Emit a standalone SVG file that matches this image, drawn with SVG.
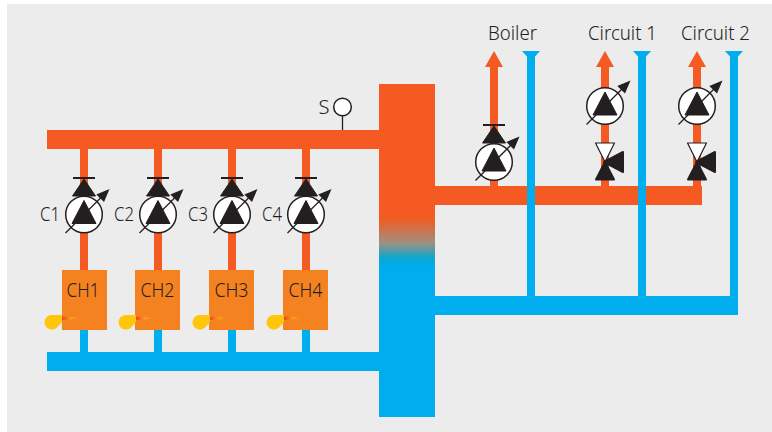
<svg xmlns="http://www.w3.org/2000/svg" width="772" height="432" viewBox="0 0 772 432">
<style>
.red{fill:#f45a21}.blue{fill:#00aeef}.box{fill:#f58220}
.lbl{font-family:"Noto Sans","Liberation Sans",sans-serif;font-weight:300;font-size:20px;fill:#231f20}
.k{fill:#231f20;stroke:#231f20;stroke-width:1;stroke-linejoin:round}
.kv{fill:#231f20;stroke:#231f20;stroke-width:2;stroke-linejoin:round}
.bar{stroke:#231f20;stroke-width:2;fill:none}
.ring{fill:#fff;stroke:#231f20;stroke-width:1.5}
.thin{stroke:#231f20;stroke-width:1.3;fill:none}
.wv{fill:#fff;stroke:#231f20;stroke-width:1.2;stroke-linejoin:round}
</style>
<defs>
<linearGradient id="mix" x1="0" y1="0" x2="0" y2="1">
<stop offset="0" stop-color="#f45a21"/>
<stop offset=".5" stop-color="#a08f80"/><stop offset=".8" stop-color="#0aa7d0"/><stop offset="1" stop-color="#00aeef"/>
</linearGradient>
<linearGradient id="fl" x1="0" y1="0" x2="1" y2="0">
<stop offset="0" stop-color="#f0451f"/><stop offset=".5" stop-color="#f9a01b"/><stop offset="1" stop-color="#f58220"/>
</linearGradient>
<g id="pump">
<circle class="ring" r="18.3"/>
<path class="k" d="M0-14 12 9H-12Z"/>
<path class="thin" d="M-18.500 18.500 21-21"/>
<path d="M25.500-25.500 12.300-20 20-12.500Z" fill="#231f20"/>
</g>
<g id="check">
<path class="bar" d="M-11 0H11"/>
<path class="k" d="M0 1 11.500 18H-11.500Z"/>
</g>
<g id="burner">
<path d="M-10 0H0V7L-5 12.500A7.300 7.300 0 1 1-10.500 0Z" fill="#ffc60b"/>
<path d="M0 1.500Q10 1 18 3 10 5 0 5Z" fill="url(#fl)"/>
</g>
<g id="valve3">
<path class="wv" d="M-9.500-19H9.500L0 0Z"/>
<path class="kv" d="M0 0 9 17.500H-9Z"/>
<path class="kv" d="M-1 0 18-10V10Z"/>
</g>
</defs>
<rect x="7" y="4" width="765" height="428" fill="#ececec"/>
<g id="connectors">
<rect class="red" x="80" y="149" width="8" height="121"/>
<rect class="red" x="154" y="149" width="8" height="121"/>
<rect class="red" x="228" y="149" width="8" height="121"/>
<rect class="red" x="302" y="149" width="8" height="121"/>
<rect class="blue" x="80" y="330" width="8" height="22"/>
<rect class="blue" x="154" y="330" width="8" height="22"/>
<rect class="blue" x="228" y="330" width="8" height="22"/>
<rect class="blue" x="302" y="330" width="8" height="22"/>
<rect class="red" x="47" y="130" width="332" height="19"/>
<rect class="blue" x="47" y="352" width="332" height="19"/>
<rect class="red" x="435" y="186" width="267" height="19"/>
<rect class="blue" x="435" y="296" width="303" height="19"/>
<rect class="red" x="490" y="60" width="8" height="126"/>
<rect class="red" x="601" y="60" width="8" height="126"/>
<rect class="red" x="693" y="60" width="8" height="126"/>
<path class="red" d="M494 51 503 67H485ZM605 51 614 67H596ZM697 51 706 67H688Z"/>
<rect class="blue" x="527" y="55" width="8" height="241"/>
<rect class="blue" x="638" y="55" width="8" height="241"/>
<rect class="blue" x="730" y="55" width="8" height="241"/>
<path class="blue" d="M522 51H540L531 61ZM633 51H651L642 61ZM725 51H743L734 61Z"/>
</g>
<g id="manifold">
<rect x="379" y="84" width="56" height="135" class="red"/>
<rect x="379" y="218" width="56" height="50" fill="url(#mix)"/>
<rect x="379" y="267" width="56" height="150" class="blue"/>
</g>
<g id="sensor">
<path class="thin" d="M342.500 116V130"/>
<circle class="ring" cx="342.500" cy="107" r="8.800"/>
<text class="lbl" x="318.500" y="114" textLength="11" lengthAdjust="spacingAndGlyphs">S</text>
</g>
<g id="c1"><use href="#check" x="84" y="178"/><use href="#pump" x="84" y="214.500"/><text class="lbl" x="40" y="221" textLength="20" lengthAdjust="spacingAndGlyphs">C1</text></g>
<g id="c2"><use href="#check" x="158" y="178"/><use href="#pump" x="158" y="214.500"/><text class="lbl" x="114" y="221" textLength="20" lengthAdjust="spacingAndGlyphs">C2</text></g>
<g id="c3"><use href="#check" x="232" y="178"/><use href="#pump" x="232" y="214.500"/><text class="lbl" x="188" y="221" textLength="20" lengthAdjust="spacingAndGlyphs">C3</text></g>
<g id="c4"><use href="#check" x="306" y="178"/><use href="#pump" x="306" y="214.500"/><text class="lbl" x="262" y="221" textLength="20" lengthAdjust="spacingAndGlyphs">C4</text></g>
<g id="ch1"><rect class="box" x="62" y="270" width="45" height="60"/><use href="#burner" x="62" y="315"/><text class="lbl" x="66.500" y="297" textLength="33" lengthAdjust="spacingAndGlyphs">CH1</text></g>
<g id="ch2"><rect class="box" x="135" y="270" width="45" height="60"/><use href="#burner" x="136" y="315"/><text class="lbl" x="140.500" y="297" textLength="34" lengthAdjust="spacingAndGlyphs">CH2</text></g>
<g id="ch3"><rect class="box" x="209" y="270" width="45" height="60"/><use href="#burner" x="210" y="315"/><text class="lbl" x="214.500" y="297" textLength="34" lengthAdjust="spacingAndGlyphs">CH3</text></g>
<g id="ch4"><rect class="box" x="283" y="270" width="45" height="60"/><use href="#burner" x="284" y="315"/><text class="lbl" x="288.500" y="297" textLength="34" lengthAdjust="spacingAndGlyphs">CH4</text></g>
<g id="boiler"><use href="#check" x="494" y="125"/><use href="#pump" x="494" y="162"/><text class="lbl" x="488" y="40" textLength="49" lengthAdjust="spacingAndGlyphs">Boiler</text></g>
<g id="circuit1"><use href="#pump" x="605" y="106"/><use href="#valve3" x="605" y="162"/><text class="lbl" x="588" y="40" textLength="69" lengthAdjust="spacingAndGlyphs">Circuit 1</text></g>
<g id="circuit2"><use href="#pump" x="697" y="106"/><use href="#valve3" x="697" y="162"/><text class="lbl" x="681" y="40" textLength="69" lengthAdjust="spacingAndGlyphs">Circuit 2</text></g>
</svg>
